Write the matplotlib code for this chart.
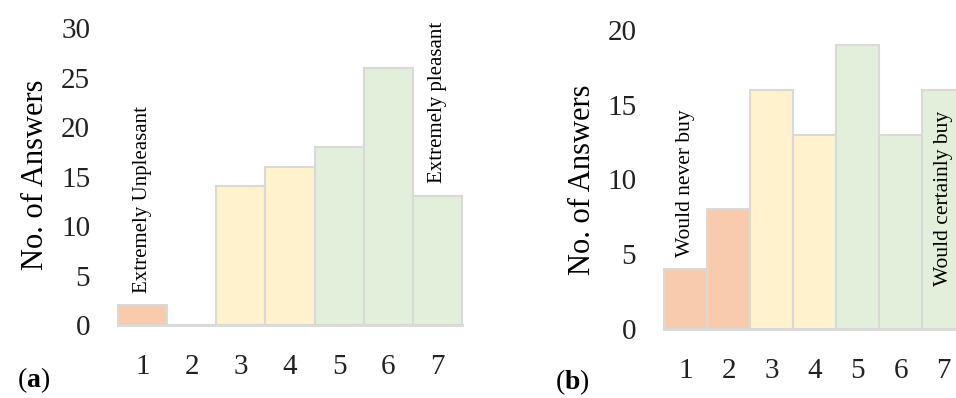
import matplotlib.pyplot as plt

# Data
categories = [1, 2, 3, 4, 5, 6, 7]
pleasant_counts = [2, 0, 14, 16, 18, 26, 13]
buy_counts = [4, 8, 16, 13, 19, 13, 16]

orange = '#F8CBAD'
yellow = '#FFF2CC'
green = '#E2EFDA'
bar_colors = [orange, orange, yellow, yellow, green, green, green]
edge = '#D9D9D9'

plt.rcParams['font.family'] = ['Liberation Serif', 'DejaVu Serif']
plt.rcParams['mathtext.fontset'] = 'custom'
plt.rcParams['mathtext.rm'] = 'Liberation Serif'
plt.rcParams['mathtext.bf'] = 'Liberation Serif:bold'

fig = plt.figure(figsize=(9.56, 3.98), dpi=100)
ax1 = fig.add_axes([0.1234, 0.1834, 0.3599, 0.7462])
ax2 = fig.add_axes([0.6946, 0.1734, 0.3149, 0.7512])


def style(ax, ymax, step):
    ax.set_xlim(0.5, 7.5)
    ax.set_ylim(0, ymax)
    ax.set_yticks(range(0, ymax + 1, step))
    ax.set_xticks(categories)
    for s in ['top', 'right', 'left']:
        ax.spines[s].set_visible(False)
    ax.spines['bottom'].set_color(edge)
    ax.spines['bottom'].set_linewidth(2)
    ax.tick_params(axis='both', length=0, labelsize=21, colors='#222222')
    ax.tick_params(axis='x', pad=21)
    ax.tick_params(axis='y', pad=20)


ax1.bar(categories, pleasant_counts, width=1.0, color=bar_colors,
        edgecolor=edge, linewidth=1.5, clip_on=False)
style(ax1, 30, 5)
ax1.set_ylabel('No. of Answers', fontsize=22)
ax1.yaxis.set_label_coords(-0.198, 0.505)
ax1.text(1, 3.2, 'Extremely Unpleasant', rotation=90, ha='center', va='bottom', fontsize=15)
ax1.text(7, 14.3, 'Extremely pleasant', rotation=90, ha='center', va='bottom', fontsize=15)

ax2.bar(categories, buy_counts, width=1.0, color=bar_colors,
        edgecolor=edge, linewidth=1.5, clip_on=False)
style(ax2, 20, 5)
ax2.set_ylabel('No. of Answers', fontsize=22)
ax2.yaxis.set_label_coords(-0.223, 0.498)
ax2.text(1, 4.8, 'Would never buy', rotation=90, ha='center', va='bottom', fontsize=15.5)
ax2.text(7, 2.9, 'Would certainly buy', rotation=90, ha='center', va='bottom', fontsize=15.5)

fig.text(0.018, 0.045, r'($\mathbf{a}$)', fontsize=20, va='center', ha='left')
fig.text(0.599, 0.04, r'($\mathbf{b}$)', fontsize=20, va='center', ha='center')

plt.savefig('out.png', dpi=100)
